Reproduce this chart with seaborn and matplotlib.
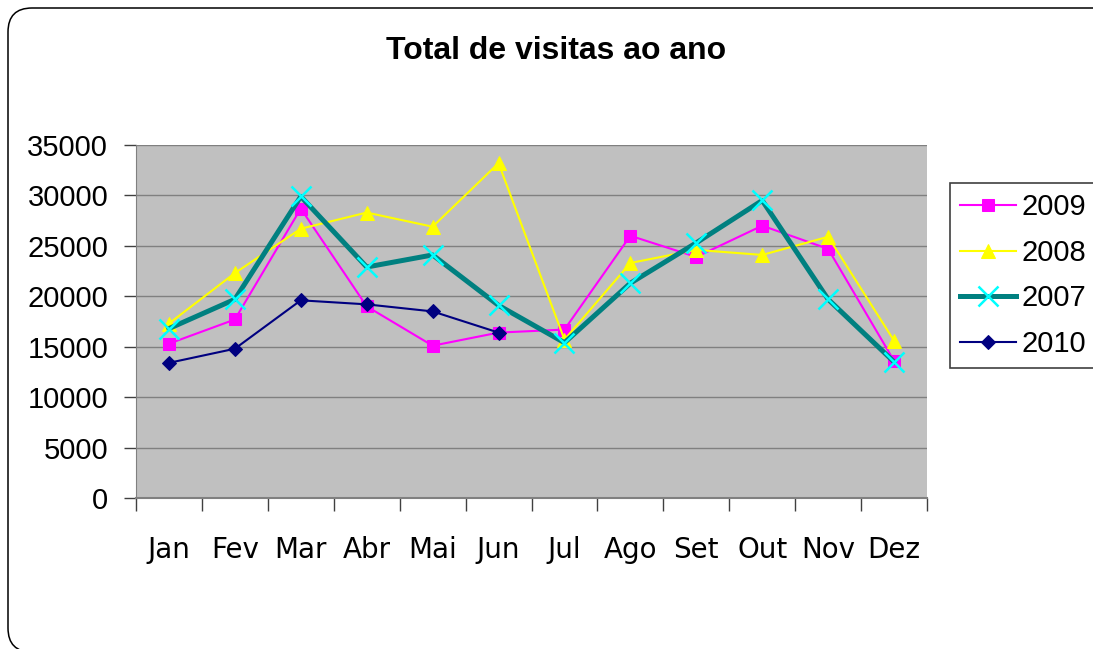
import pandas as pd
import matplotlib.pyplot as plt
import matplotlib.patches as patches
import seaborn as sns

# data
months = ['Jan', 'Fev', 'Mar', 'Abr', 'Mai', 'Jun', 'Jul', 'Ago', 'Set', 'Out', 'Nov', 'Dez']
v2009 = [15300, 17700, 28700, 19000, 15100, 16400, 16700, 26000, 23900, 27000, 24700, 13600]
v2008 = [17300, 22300, 26700, 28300, 26900, 33200, 15700, 23300, 24600, 24100, 25900, 15600]
v2007 = [16800, 19700, 29900, 22900, 24100, 19100, 15400, 21300, 25300, 29500, 19700, 13500]
v2010 = [13400, 14800, 19600, 19200, 18500, 16400]
y_ticks = [0, 5000, 10000, 15000, 20000, 25000, 30000, 35000]

df = pd.DataFrame({'mes': months, '2009': v2009, '2008': v2008, '2007': v2007})
df10 = pd.DataFrame({'mes': months[:len(v2010)], '2010': v2010})

fig = plt.figure(figsize=(10.93, 6.49), dpi=100)
ax = fig.add_axes([136 / 1093, 1 - 498 / 649, 791 / 1093, 353 / 649])
ax.set_facecolor('#c0c0c0')

# series, in legend order
sns.lineplot(x='mes', y='2009', data=df, sort=False, ax=ax, label='2009',
             color='#ff00ff', lw=1.5, marker='s', ms=8, mec='#ff00ff', mfc='#ff00ff')
sns.lineplot(x='mes', y='2008', data=df, sort=False, ax=ax, label='2008',
             color='#ffff00', lw=1.5, marker='^', ms=10, mec='#ffff00', mfc='#ffff00')
sns.lineplot(x='mes', y='2007', data=df, sort=False, ax=ax, label='2007',
             color='#008080', lw=3.6, marker='x', ms=14, mew=1.8, mec='#00ffff')
sns.lineplot(x='mes', y='2010', data=df10, sort=False, ax=ax, label='2010',
             color='#000080', lw=1.5, marker='D', ms=7, mec='#000080', mfc='#000080')

ax.set_xlim(-0.5, 11.5)
ax.set_ylim(0, 35000)
ax.set_yticks(y_ticks)
ax.set_xticks(range(len(months)))
ax.set_xticklabels(months, fontsize=20, family='DejaVu Sans')
ax.set_xticks([i - 0.5 for i in range(len(months) + 1)], minor=True)
ax.tick_params(axis='x', which='major', length=0, pad=27)
ax.tick_params(axis='x', which='minor', length=9, width=1, color='#404040', direction='out')
ax.tick_params(axis='y', length=9, width=1, color='#404040', pad=11, labelsize=21)
for lab in ax.get_yticklabels():
    lab.set_family('Liberation Sans')
ax.set_xlabel('')
ax.set_ylabel('')

ax.set_axisbelow(True)
ax.yaxis.grid(True, color='#808080', lw=1)
ax.xaxis.grid(False)
for s in ['top', 'right']:
    ax.spines[s].set_visible(False)
ax.spines['left'].set_color('#808080')
ax.spines['bottom'].set_color('#808080')
ax.spines['bottom'].set_linewidth(1.5)

leg = ax.legend(loc='upper left', bbox_to_anchor=(950 / 1093, 1 - 183 / 649),
                bbox_transform=fig.transFigure, frameon=True, fancybox=False,
                framealpha=1, edgecolor='#404040', borderaxespad=0, borderpad=0.35,
                labelspacing=0.6, handlelength=1.9, handletextpad=0.2,
                prop={'family': 'Liberation Sans', 'size': 21})
leg.get_frame().set_linewidth(1.2)

fig.text(556 / 1093, 1 - 51 / 649, 'Total de visitas ao ano', ha='center', va='center',
         fontsize=23, fontweight='bold', family='Liberation Sans')

# rounded chart border
border = patches.FancyBboxPatch((8, -3), 1112, 644, boxstyle='round,pad=0,rounding_size=24',
                                transform=None, fill=False, ec='black', lw=1.1)
fig.patches.append(border)

fig.savefig('out.png', dpi=100)
